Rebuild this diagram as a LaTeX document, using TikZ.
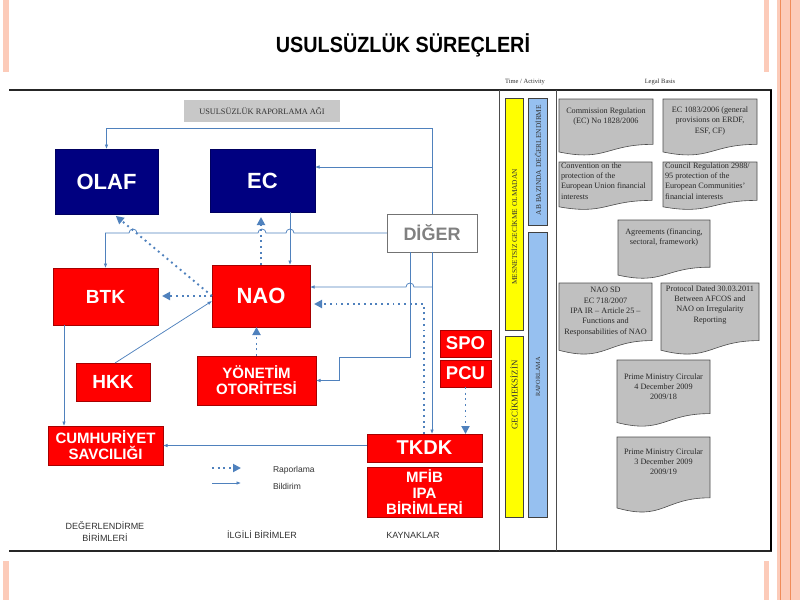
\documentclass[tikz,border=0pt]{standalone}
\usepackage{fontspec}
\setmainfont{Liberation Serif}
\setsansfont{Liberation Sans}
\newfontfamily\titlefont{Liberation Sans}[FakeStretch=0.9]
\usetikzlibrary{arrows.meta}
\definecolor{navyc}{RGB}{0,0,128}
\definecolor{boxred}{RGB}{255,0,0}
\definecolor{lineblue}{RGB}{79,129,189}
\definecolor{raygray}{RGB}{200,200,200}
\definecolor{legalgray}{RGB}{192,192,192}
\definecolor{legaltxt}{RGB}{40,40,40}
\definecolor{barblue}{RGB}{150,192,240}
\definecolor{baryel}{RGB}{255,255,0}
\definecolor{pinkc}{RGB}{252,203,185}
\definecolor{orangec}{RGB}{240,140,90}
\definecolor{labgray}{RGB}{50,50,50}
\newcommand\legaldocC[7]{% name x1 y1 x2 h textoffset text
  \path[legalshape] (#2,#3) -- (#4,#3) -- (#4,{#3+0.8*#5})
    .. controls ({(#2+#4)/2},{#3+0.8*#5}) and ({(#2+#4)/2},{#3+1.107*#5}) .. (#2,{#3+0.934*#5}) -- cycle;
  \node[legaltext, anchor=north, align=center] (#1) at ({(#2+#4)/2},{#3+#6}) {#7};
}
\newcommand\legaldocL[7]{%
  \path[legalshape] (#2,#3) -- (#4,#3) -- (#4,{#3+0.8*#5})
    .. controls ({(#2+#4)/2},{#3+0.8*#5}) and ({(#2+#4)/2},{#3+1.107*#5}) .. (#2,{#3+0.934*#5}) -- cycle;
  \node[legaltext, anchor=north west, align=left] (#1) at ({#2+2},{#3+#6}) {#7};
}
\begin{document}
\begin{tikzpicture}[x=1pt,y=-1pt,
  every node/.style={inner sep=0pt, outer sep=0pt},
  navybox/.style={fill=navyc, draw=navyc!75!black, line width=0.6pt, text=white,
    font=\sffamily\bfseries\fontsize{22}{22}\selectfont},
  redbox/.style={fill=boxred, draw=boxred!65!black, line width=0.6pt, text=white,
    font=\sffamily\bfseries, align=center},
  notif/.style={draw=lineblue, line width=0.75pt, -{Latex[length=4.5pt,width=3.6pt]}},
  plainline/.style={draw=lineblue, line width=0.75pt},
  report/.style={draw=lineblue, line width=1.9pt, dash pattern=on 1.9pt off 3.8pt,
    -{Triangle[length=8pt,width=8pt]}},
  legalshape/.style={fill=legalgray, draw=black!70, line width=0.6pt},
  legaltext/.style={text=legaltxt, font=\fontsize{8.2}{10.3}\selectfont},
  barbox/.style={draw=black!75, line width=0.7pt, rotate=90},
  bartext/.style={rotate=90, text=black!80},
  lab/.style={text=labgray, font=\sffamily\fontsize{9}{12}\selectfont, align=center}
]
\useasboundingbox (0,0) rectangle (800,600);
% decorations
\fill[pinkc] (3,0) rectangle (9,72);
\fill[pinkc] (3,561) rectangle (9,600);
\fill[pinkc] (764,0) rectangle (769,72);
\fill[pinkc] (764,561) rectangle (769,600);
\fill[pinkc] (777,0) rectangle (800,600);
\draw[orangec, line width=1pt] (780,0) -- (780,600);
\draw[orangec, line width=1pt] (790,0) -- (790,600);
% title
\node[font=\titlefont\bfseries\fontsize{22}{22}\selectfont] (title) at (403,45) {USULSÜZLÜK SÜREÇLERİ};
% frame
\draw[black!85, line width=1.8pt] (9,90) -- (772,90);
\draw[black!85, line width=1.8pt] (9,551) -- (772,551);
\draw[black, line width=1.8pt] (771,90) -- (771,551);
\draw[black!70, line width=0.8pt] (499,90) -- (499,551);
\draw[black!70, line width=0.8pt] (556,90) -- (556,551);
\node[font=\fontsize{6.5}{7}\selectfont, text=labgray] (hdrT) at (525,82) {Time / Activity};
\node[font=\fontsize{6.5}{7}\selectfont, text=labgray] (hdrL) at (660,82) {Legal Basis};
% left diagram boxes
\node[fill=raygray, minimum width=156, minimum height=22, text=labgray,
  font=\fontsize{8.3}{9}\selectfont] (RAP) at (262,111) {USULSÜZLÜK RAPORLAMA AĞI};
\node[navybox, minimum width=103, minimum height=65] (OLAF) at (106.5,181.5) {OLAF};
\node[navybox, minimum width=105, minimum height=63] (EC) at (262.5,180.5) {EC};
\node[redbox, minimum width=105, minimum height=57, font=\sffamily\bfseries\fontsize{19}{19}\selectfont] (BTK) at (105.5,296.5) {BTK};
\node[redbox, minimum width=98, minimum height=62, font=\sffamily\bfseries\fontsize{22}{22}\selectfont] (NAO) at (261,296) {NAO};
\node[redbox, minimum width=74, minimum height=38, font=\sffamily\bfseries\fontsize{19}{19}\selectfont] (HKK) at (113,382) {HKK};
\node[redbox, minimum width=119, minimum height=49, font=\sffamily\bfseries\fontsize{15}{16}\selectfont] (YON) at (256.5,380.5) {YÖNETİM\\OTORİTESİ};
\node[redbox, minimum width=115, minimum height=39, font=\sffamily\bfseries\fontsize{15}{16}\selectfont] (CUM) at (105.5,445.5) {CUMHURİYET\\SAVCILIĞI};
\node[redbox, minimum width=51, minimum height=27, font=\sffamily\bfseries\fontsize{18.5}{19}\selectfont] (SPO) at (465.5,343.5) {SPO};
\node[redbox, minimum width=51, minimum height=27, font=\sffamily\bfseries\fontsize{18.5}{19}\selectfont] (PCU) at (465.5,373.5) {PCU};
\node[redbox, minimum width=115, minimum height=28, font=\sffamily\bfseries\fontsize{20}{20}\selectfont] (TKDK) at (424.5,448) {TKDK};
\node[redbox, minimum width=115, minimum height=50, font=\sffamily\bfseries\fontsize{15}{16}\selectfont] (MFIB) at (424.5,492) {MFİB\\IPA\\BİRİMLERİ};
\node[draw=black!55, fill=white, line width=0.9pt, minimum width=90, minimum height=38,
  text=black!50, font=\sffamily\bfseries\fontsize{18}{18}\selectfont] (DIGER) at (432,233) {DİĞER};
% helper coordinates
\coordinate (vtop) at (432,128);
\coordinate (x410) at (410,0);
\coordinate (x290) at (290,0);
\coordinate (x64) at (64,0);
\coordinate (x424) at (424,0);
\coordinate (ystep) at (339,357);
\path (EC.east) ++(0,-13.5) coordinate (ecin);
\path (NAO.east) ++(0,-9) coordinate (naoin);
\path (NAO.east) ++(0,8) coordinate (naodot);
\path (NAO.west) ++(0,5) coordinate (naohkk);
\path (OLAF.south) ++(7,0) coordinate (olafbot);
\path (HKK.north) ++(2,0) coordinate (hkktop);
% Bildirim connectors
\draw[plainline] (DIGER.north -| vtop) -- (vtop);
\draw[notif] (vtop) -| (OLAF.north);
\draw[notif] (vtop |- ecin) -- (ecin);
\draw[notif] (DIGER.south -| vtop) -- (TKDK.north -| vtop);
\draw[notif] (vtop |- naoin) -- (414,287) arc (0:-180:4) -- (naoin);
\draw[notif] (DIGER.west) -- (294,233) arc (0:-180:4) -- (266,233) arc (0:-180:4)
  -- (137,233) arc (0:-180:4) -- (BTK.north |- DIGER.west) -- (BTK.north);
\draw[notif] (EC.south -| x290) -- (NAO.north -| x290);
\draw[notif] (DIGER.south -| x410) |- (ystep) |- (YON.east);
\draw[notif] (hkktop) -- (naohkk);
\draw[notif] (BTK.south -| x64) -- (CUM.north -| x64);
\draw[notif] (TKDK.west |- CUM.east) -- (CUM.east);
% Raporlama connectors
\draw[report, shorten >=5pt] (NAO.north) -- (NAO.north |- EC.south);
\draw[report, shorten >=3pt] (NAO.west) -- (olafbot);
\draw[report, shorten >=4pt] (NAO.west) -- (NAO.west -| BTK.east);
\draw[report] (YON.north) -- (YON.north |- NAO.south);
\draw[report] (PCU.south) -- (PCU.south |- TKDK.north);
\draw[report, shorten >=4pt] (TKDK.north -| x424) |- (naodot);
% legend
\coordinate (lgRa) at (212,468);
\coordinate (lgRb) at (241,468);
\coordinate (lgBa) at (212,483);
\coordinate (lgBb) at (241,483);
\draw[report] (lgRa) -- (lgRb);
\draw[notif] (lgBa) -- (lgBb);
\node[lab, anchor=west, font=\sffamily\fontsize{8.5}{9}\selectfont] (lgR) at (273,470) {Raporlama};
\node[lab, anchor=west, font=\sffamily\fontsize{8.5}{9}\selectfont] (lgB) at (273,486) {Bildirim};
% bottom labels
\node[lab] (labD) at (105,532) {DEĞERLENDİRME\\BİRİMLERİ};
\node[lab] (labI) at (262,535) {İLGİLİ BİRİMLER};
\node[lab] (labK) at (413,535) {KAYNAKLAR};
% time / activity bars
\node[barbox, fill=baryel, minimum width=232, minimum height=18] (Y1) at (514,214) {};
\node[barbox, fill=baryel, minimum width=181, minimum height=18] (Y2) at (514,426.5) {};
\node[barbox, fill=barblue, minimum width=127, minimum height=19] (B1) at (537.5,161.5) {};
\node[barbox, fill=barblue, minimum width=285, minimum height=19] (B2) at (537.5,374.5) {};
\node[bartext, font=\fontsize{7.4}{7.4}\selectfont] (Y1t) at (514,227) {MESNETSİZ GECİKME OLMADAN};
\node[bartext, font=\fontsize{8.8}{8.8}\selectfont] (Y2t) at (514,395) {GECİKMEKSİZİN};
\node[bartext, font=\fontsize{7.4}{7.4}\selectfont] (B1t) at (538,160) {AB BAZINDA DEĞERLENDİRME};
\node[bartext, font=\fontsize{6.3}{6.3}\selectfont] (B2t) at (538,377) {RAPORLAMA};
% legal basis
\legaldocC{L1}{559}{99}{653}{56.7}{9}{Commission Regulation\\(EC) No 1828/2006}
\legaldocC{L2}{663}{99}{757}{56.7}{8}{EC 1083/2006 (general\\provisions on ERDF,\\ESF, CF)}
\legaldocL{L3}{559}{162}{652}{48}{0.5}{Convention on the\\protection of the\\European Union financial\\interests}
\legaldocL{L4}{663}{162}{757}{48}{0.5}{Council Regulation 2988/\\95 protection of the\\European Communities'\\financial interests}
\legaldocC{L5}{618}{220}{710}{59}{8.5}{Agreements (financing,\\sectoral, framework)}
\legaldocC{L6}{559}{283}{652}{72}{4.5}{NAO SD\\EC 718/2007\\IPA IR – Article 25 –\\Functions and\\Responsabilities of NAO}
\legaldocC{L7}{661}{283}{759}{72}{2.5}{Protocol Dated 30.03.2011\\Between AFCOS and\\NAO on Irregularity\\Reporting}
\legaldocC{L8}{617}{360}{710}{67}{13.5}{Prime Ministry Circular\\4 December 2009\\2009/18}
\legaldocC{L9}{617}{437}{710}{76}{11.5}{Prime Ministry Circular\\3 December 2009\\2009/19}
\end{tikzpicture}
\end{document}
